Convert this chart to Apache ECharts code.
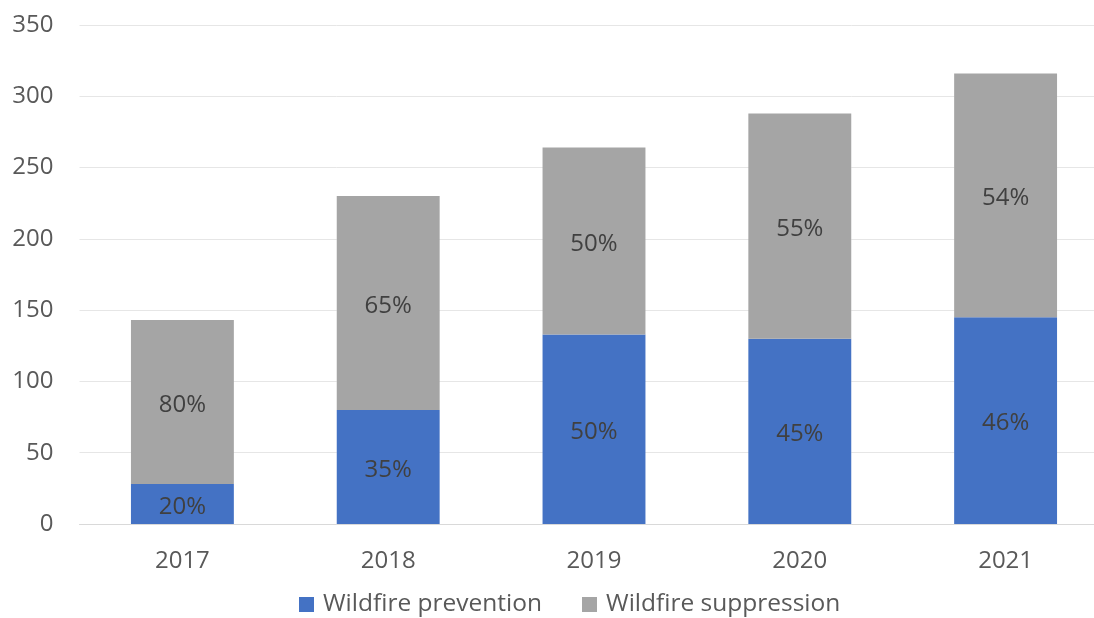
<!DOCTYPE html>
<html>
<head>
<meta charset="utf-8">
<script src="https://cdn.jsdelivr.net/npm/echarts@6/dist/echarts.min.js"></script>
<style>html,body{margin:0;padding:0;background:#fff;overflow:hidden}#c{width:1120px;height:618px}</style>
</head>
<body>
<div id="c"></div>
<script>
var years = ['2017', '2018', '2019', '2020', '2021'];
var prevention = [28, 80, 133, 130, 145];
var suppression = [115, 150, 131, 158, 171];
var preventionLabels = ['20%', '35%', '50%', '45%', '46%'];
var suppressionLabels = ['80%', '65%', '50%', '55%', '54%'];

var chart = echarts.init(document.getElementById('c'));
var font = 'Open Sans';
chart.setOption({
  animation: false,
  textStyle: { fontFamily: font },
  grid: { left: 79.5, width: 1029, top: 25, bottom: 94 },
  legend: {
    data: ['Wildfire prevention', 'Wildfire suppression'],
    bottom: -4,
    left: 294,
    icon: 'rect',
    itemWidth: 15,
    itemHeight: 15,
    itemGap: 40,
    textStyle: { fontSize: 24.5, color: '#595959', fontFamily: font, padding: [0, 0, 0, 4] }
  },
  xAxis: {
    type: 'category',
    data: years,
    axisLine: { lineStyle: { color: '#d9d9d9' } },
    axisTick: { show: false },
    axisLabel: { fontSize: 24, color: '#595959', margin: 25, fontFamily: font }
  },
  yAxis: {
    type: 'value',
    min: 0, max: 350, interval: 50,
    axisLine: { show: false },
    axisTick: { show: false },
    splitLine: { lineStyle: { color: '#e6e6e6' } },
    axisLabel: { fontSize: 24, color: '#595959', margin: 26, fontFamily: font }
  },
  series: [
    {
      name: 'Wildfire prevention', type: 'bar', stack: 't', barWidth: '50%',
      itemStyle: { color: '#4472C4' },
      data: prevention,
      label: { show: true, position: 'inside', offset: [0, 3], fontSize: 24, color: '#404040', fontFamily: font,
        formatter: function (p) { return preventionLabels[p.dataIndex]; } }
    },
    {
      name: 'Wildfire suppression', type: 'bar', stack: 't', barWidth: '50%',
      itemStyle: { color: '#A5A5A5' },
      data: suppression,
      label: { show: true, position: 'inside', offset: [0, 3], fontSize: 24, color: '#404040', fontFamily: font,
        formatter: function (p) { return suppressionLabels[p.dataIndex]; } }
    }
  ]
});
</script>
</body>
</html>
